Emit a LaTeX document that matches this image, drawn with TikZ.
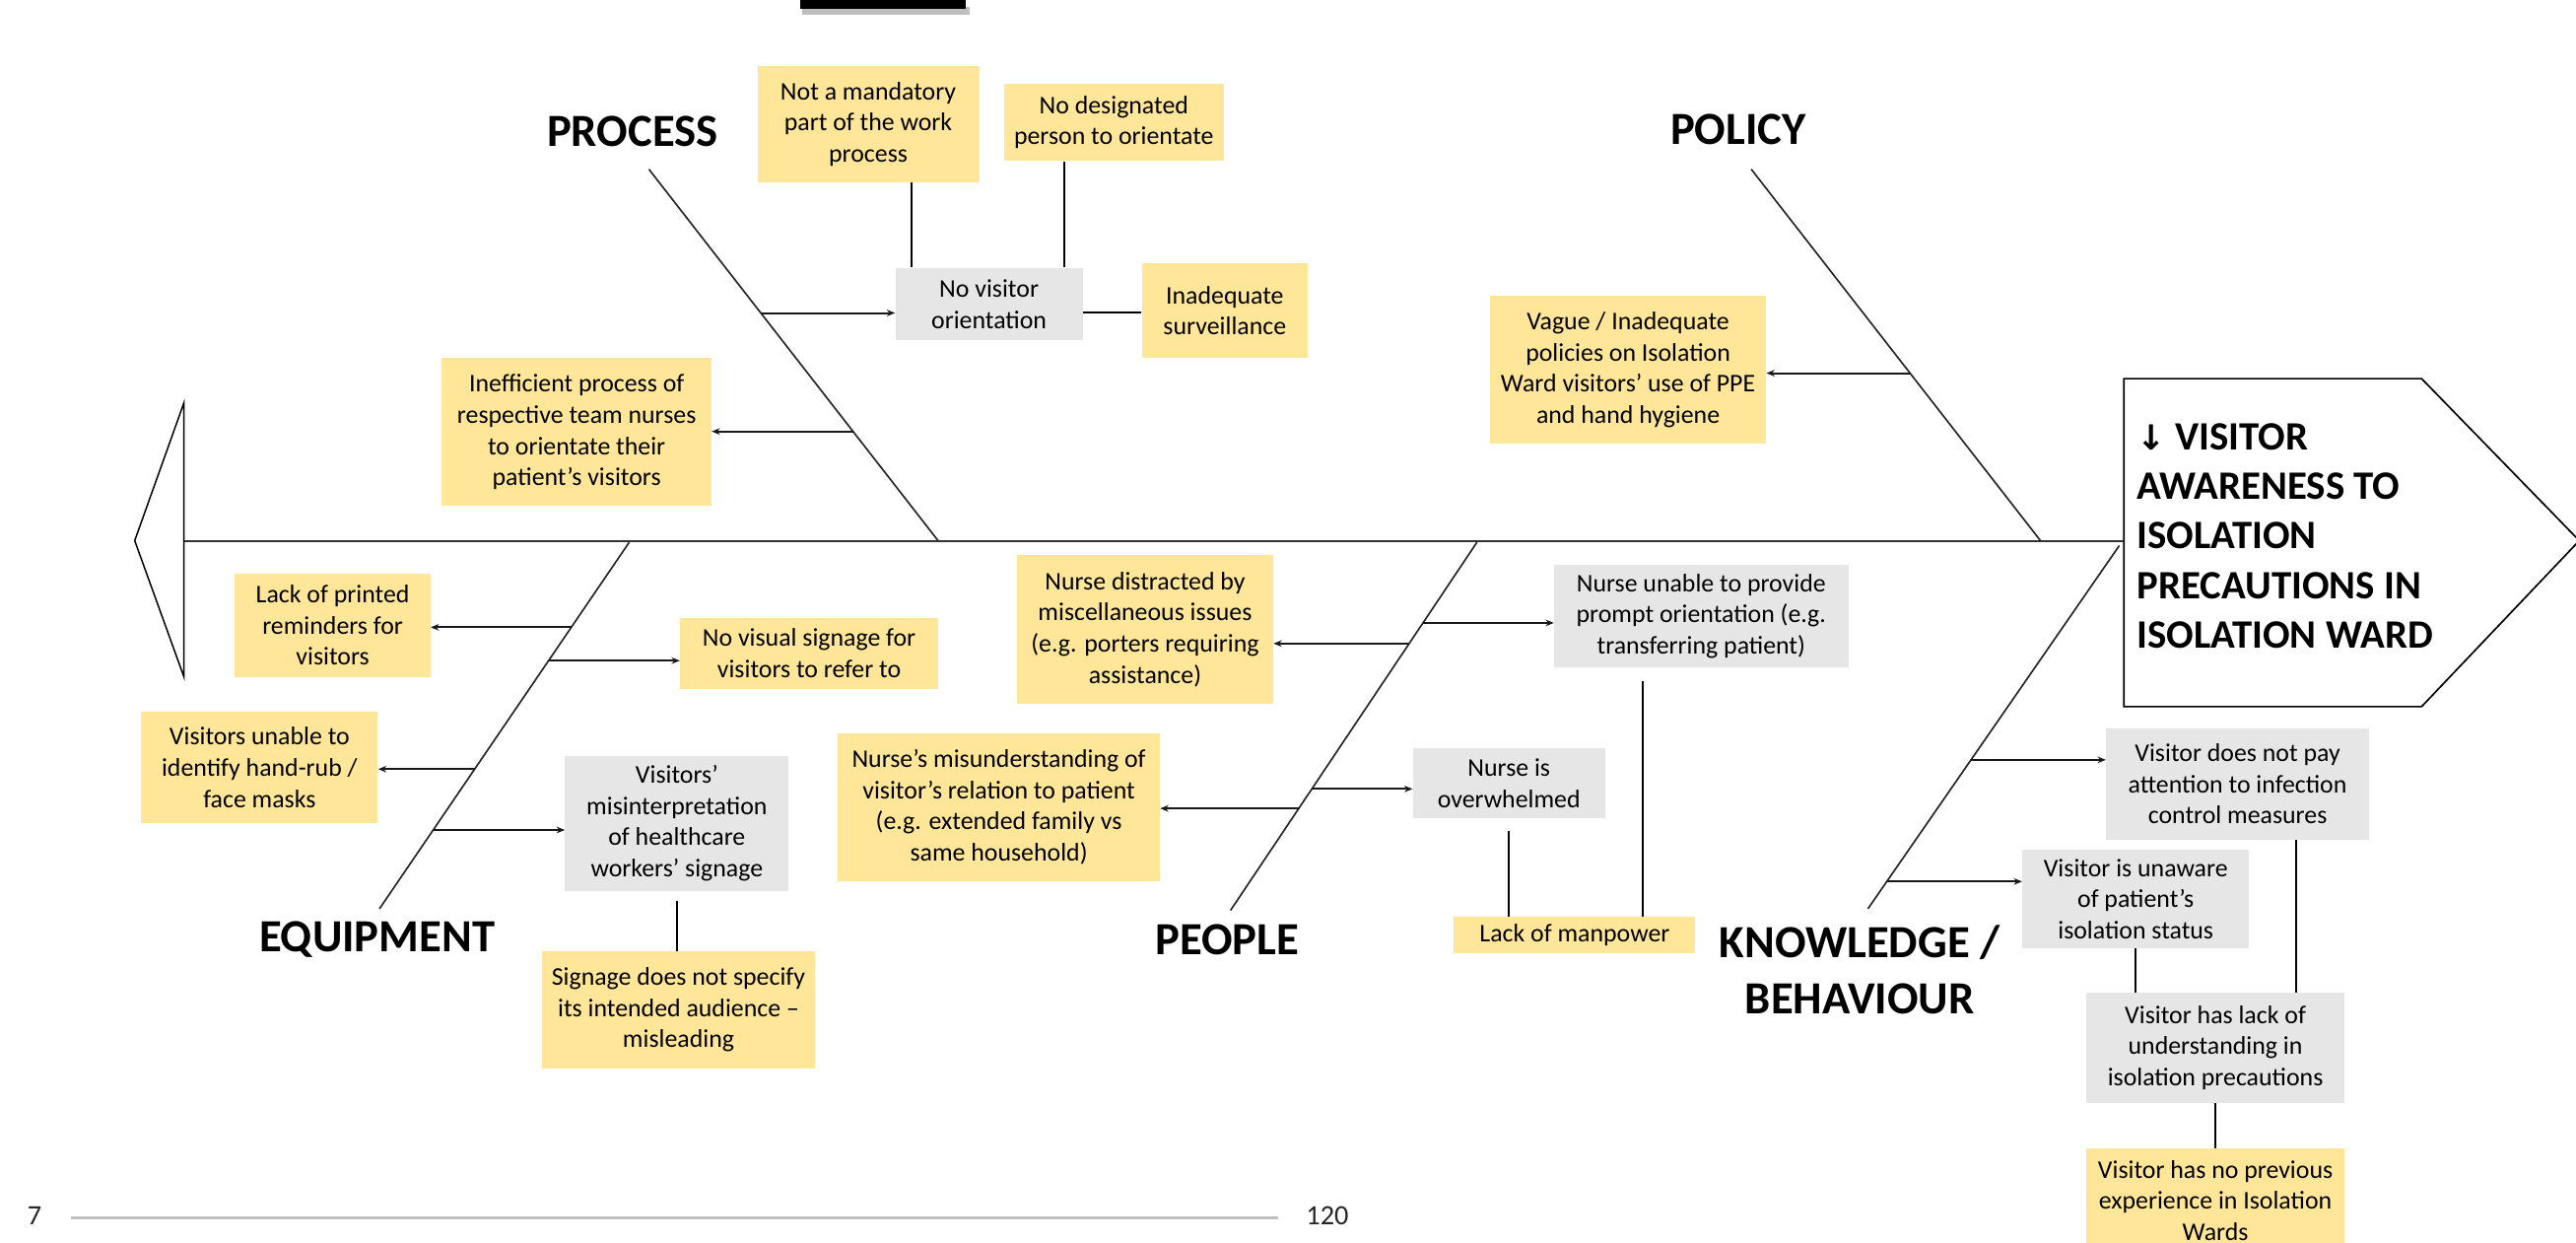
\documentclass[tikz,border=0pt]{standalone}
\usepackage{fontspec}
\setmainfont{Carlito}
\newfontfamily\arrowfont{DejaVu Sans}
\usetikzlibrary{arrows.meta,calc}
\definecolor{yfill}{HTML}{FFE699}
\definecolor{gfill}{HTML}{E7E6E6}
\definecolor{footgray}{HTML}{BFBFBF}
\tikzset{
  box/.style={inner sep=0pt, align=center, font=\fontsize{15.5}{19}\selectfont, text=black},
  ybx/.style={box, fill=yfill},
  gbx/.style={box, fill=gfill},
  cat/.style={inner sep=0pt, align=center, font=\fontsize{28}{34}\selectfont\bfseries},
  bone/.style={line width=1pt, black!85},
  spine/.style={line width=1.4pt, black!80},
  arr/.style={line width=1.2pt, black!90, -{Stealth[length=5pt,width=4pt]}},
  sub/.style={line width=1.1pt},
}
\begin{document}
\begin{tikzpicture}[x=1pt,y=-1pt]
\useasboundingbox (0,0) rectangle (1568,756);
\fill[white] (0,0) rectangle (1568,756);

% title fragment (underline bar)
\fill[black!25] (488,4) rectangle (590,9);
\fill[black] (487,0) rectangle (588,5.5);

% fish tail and spine
\coordinate (tailT) at (112,245);
\coordinate (tailP) at (82,329);
\coordinate (tailB) at (112,412);
\draw[line width=0.9pt] (tailT) -- (tailP) -- (tailB) -- cycle;
\coordinate (spineL) at (112,329.5);

% head
\draw[line width=1pt, fill=white] (1292.8,230.4) -- (1474,230.4) -- (1570,329) -- (1474,430) -- (1292.8,430) -- cycle;
\coordinate (headL) at (1292.8,329.5);
\draw[spine] (spineL) -- (headL);
\node[anchor=west, inner sep=0pt, align=left, font=\fontsize{24.5}{30.2}\selectfont\bfseries] (head) at (1300.6,326)
  {{\arrowfont\fontsize{21}{30}\selectfont\bfseries ↓} VISITOR\\AWARENESS TO\\ISOLATION\\PRECAUTIONS IN\\ISOLATION WARD};

% bones
\coordinate (procT) at (395,103);   \coordinate (procB) at (571,329);
\coordinate (polT) at (1066,103);   \coordinate (polB) at (1242,329);
\coordinate (eqB) at (383,330);     \coordinate (eqT) at (231,553);
\coordinate (peoB) at (899,330);    \coordinate (peoT) at (749,554);
\coordinate (knB) at (1290,332);    \coordinate (knT) at (1137,553);

\draw[bone] (procT) -- (procB) coordinate[pos=0.387] (pr1) coordinate[pos=0.706] (pr2);
\draw[bone] (polT) -- (polB) coordinate[pos=0.549] (po1);
\draw[bone] (eqB) -- (eqT) coordinate[pos=0.232] (eq1) coordinate[pos=0.323] (eq2) coordinate[pos=0.619] (eq3) coordinate[pos=0.785] (eq4);
\draw[bone] (peoB) -- (peoT) coordinate[pos=0.219] (pe1) coordinate[pos=0.275] (pe2) coordinate[pos=0.670] (pe3) coordinate[pos=0.723] (pe4);
\draw[bone] (knB) -- (knT) coordinate[pos=0.590] (kn1) coordinate[pos=0.925] (kn2);

% category labels
\node[cat] (lprocess) at (385,80) {PROCESS};
\node[cat] (lpolicy) at (1058,79) {POLICY};
\node[cat] (lequip) at (229.5,572) {EQUIPMENT};
\node[cat] (lpeople) at (747,572) {PEOPLE};
\node[cat] (lknow) at (1132,590) {KNOWLEDGE /\\BEHAVIOUR};

% PROCESS boxes
\node[ybx, minimum width=135pt, minimum height=71pt] (mand) at (528.5,75.5) {Not a mandatory\\part of the work\\process};
\node[ybx, minimum width=134pt, minimum height=47pt] (desig) at (678,74.5) {No designated\\person to orientate};
\node[gbx, minimum width=114pt, minimum height=44pt] (orient) at (602,185) {No visitor\\orientation};
\node[ybx, minimum width=101pt, minimum height=58pt] (surv) at (745.5,189) {Inadequate\\surveillance};
\node[ybx, minimum width=164pt, minimum height=90pt] (ineff) at (351,263) {Inefficient process of\\respective team nurses\\to orientate their\\patient’s visitors};

% POLICY box
\node[ybx, minimum width=168pt, minimum height=90pt] (vague) at (991,225) {Vague / Inadequate\\policies on Isolation\\Ward visitors’ use of PPE\\and hand hygiene};

% EQUIPMENT boxes
\node[ybx, minimum width=119pt, minimum height=63pt] (lackpr) at (202.5,380.5) {Lack of printed\\reminders for\\visitors};
\node[ybx, minimum width=157pt, minimum height=43pt] (novis) at (492.5,397.5) {No visual signage for\\visitors to refer to};
\node[ybx, minimum width=144pt, minimum height=68pt] (vunable) at (158,467) {Visitors unable to\\identify hand-rub /\\face masks};
\node[gbx, minimum width=136pt, minimum height=82pt] (misint) at (412,501) {Visitors’\\misinterpretation\\of healthcare\\workers’ signage};
\node[ybx, minimum width=166pt, minimum height=71pt] (signage) at (413,614.5) {Signage does not specify\\its intended audience –\\misleading};

% PEOPLE boxes
\node[ybx, minimum width=156pt, minimum height=90pt] (distr) at (697,383) {Nurse distracted by\\miscellaneous issues\\(e.g. porters requiring\\assistance)};
\node[ybx, minimum width=196pt, minimum height=90pt] (misund) at (608,491) {Nurse’s misunderstanding of\\visitor’s relation to patient\\(e.g. extended family vs\\same household)};
\node[gbx, minimum width=179pt, minimum height=62pt] (unable) at (1035.5,375) {Nurse unable to provide\\prompt orientation (e.g.\\transferring patient)};
\node[gbx, minimum width=117pt, minimum height=43pt] (overw) at (918.5,476.5) {Nurse is\\overwhelmed};
\node[ybx, minimum width=147pt, minimum height=22pt] (manp) at (958.5,569) {Lack of manpower};

% KNOWLEDGE boxes
\node[gbx, minimum width=160pt, minimum height=68pt] (nopay) at (1362,477) {Visitor does not pay\\attention to infection\\control measures};
\node[gbx, minimum width=138pt, minimum height=60pt] (unaware) at (1300,547) {Visitor is unaware\\of patient’s\\isolation status};
\node[gbx, minimum width=157pt, minimum height=67pt] (lackund) at (1348.5,637.5) {Visitor has lack of\\understanding in\\isolation precautions};
\node[ybx, minimum width=157pt, minimum height=63pt] (noprev) at (1348.5,730.5) {Visitor has no previous\\experience in Isolation\\Wards};

% arrows from bones
\draw[arr] (pr1) -- (pr1 -| orient.west);
\draw[arr] (pr2) -- (pr2 -| ineff.east);
\draw[arr] (po1) -- (po1 -| vague.east);
\draw[arr] (eq1) -- (eq1 -| lackpr.east);
\draw[arr] (eq2) -- (eq2 -| novis.west);
\draw[arr] (eq3) -- (eq3 -| vunable.east);
\draw[arr] (eq4) -- (eq4 -| misint.west);
\draw[arr] (pe1) -- (pe1 -| unable.west);
\draw[arr] (pe2) -- (pe2 -| distr.east);
\draw[arr] (pe3) -- (pe3 -| overw.west);
\draw[arr] (pe4) -- (pe4 -| misund.east);
\draw[arr] (kn1) -- (kn1 -| nopay.west);
\draw[arr] (kn2) -- (kn2 -| unaware.west);

% sub-cause connectors
\coordinate (o1) at ([xshift=10pt]orient.north west);
\coordinate (o2) at ([xshift=103pt]orient.north west);
\coordinate (o3) at ([yshift=-5pt]orient.east);
\draw[sub] (o1) -- (o1 |- mand.south);
\draw[sub] (o2) -- (o2 |- desig.south);
\draw[sub] (o3) -- (o3 -| surv.west);

\coordinate (u1) at ([xshift=54pt,yshift=-8pt]unable.south west);
\coordinate (w1) at ([yshift=-7.5pt]overw.south);
\coordinate (m1) at ([yshift=-6pt]misint.south);
\draw[sub] (u1) -- (u1 |- manp.north);
\draw[sub] (w1) -- (w1 |- manp.north);
\draw[sub] (m1) -- (m1 |- signage.north);

\coordinate (k1) at (unaware.south);
\coordinate (k2) at ([xshift=116pt]nopay.south west);
\draw[sub] (k1) -- (k1 |- lackund.north);
\draw[sub] (k2) -- (k2 |- lackund.north);
\draw[sub] (lackund.south) -- (noprev.north);

% footer
\node[inner sep=0pt, font=\fontsize{17}{20}\selectfont, text=black!85] (pg) at (21,740) {7};
\node[inner sep=0pt, font=\fontsize{17}{20}\selectfont, text=black!85] (cnt) at (808,740) {120};
\coordinate (fl) at (43,741);
\coordinate (fr) at (778,741);
\draw[line width=1.6pt, footgray] (fl) -- (fr);
\end{tikzpicture}
\end{document}
